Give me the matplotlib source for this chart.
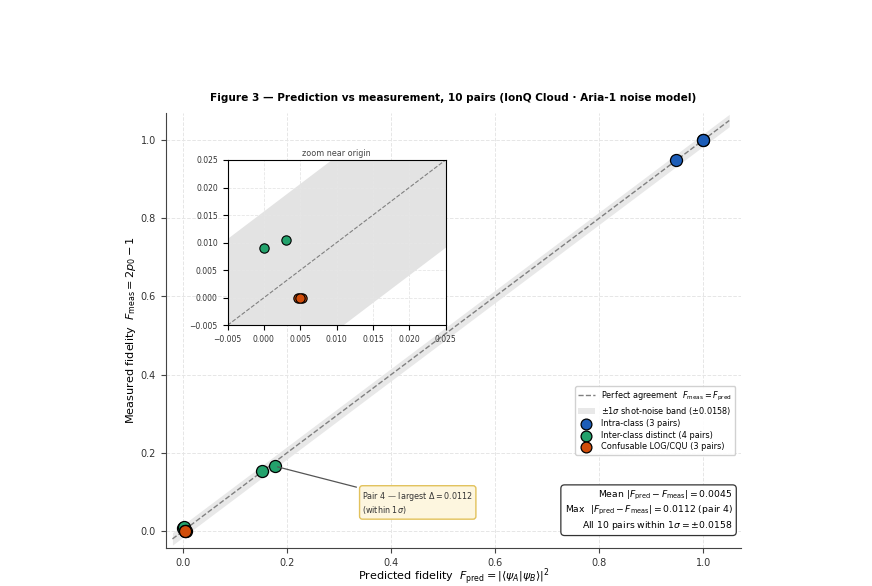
import numpy as np
import matplotlib
matplotlib.use('Agg')
import matplotlib.pyplot as plt

# pair data: predicted fidelity vs measured fidelity (2*p0 - 1)
intra_pred = [1.000, 0.948, 1.000]
intra_meas = [1.000, 0.948, 1.000]
inter_pred = [0.153, 0.177, 0.000, 0.003]
inter_meas = [0.154, 0.166, 0.009, 0.0105]
conf_pred = [0.0047, 0.0053, 0.0050]
conf_meas = [0.000, 0.000, 0.000]

sigma = 0.0158

c_intra = '#1c5db8'
c_inter = '#23a26c'
c_conf = '#d14d0a'

fig = plt.figure(figsize=(8.72, 5.86), dpi=100)
ax = fig.add_axes([0.19, 0.065, 0.66, 0.742])

xx = np.array([-0.02, 1.05])
ax.fill_between(xx, xx - sigma, xx + sigma, color='#d9d9d9', alpha=0.6, lw=0,
                label=r'$\pm1\sigma$ shot-noise band ($\pm$0.0158)')
ax.plot(xx, xx, '--', color='grey', lw=1,
        label=r'Perfect agreement  $F_{\rm meas}=F_{\rm pred}$')

kw = dict(s=75, edgecolors='black', linewidths=0.9, zorder=3)
ax.scatter(intra_pred, intra_meas, color=c_intra, label='Intra-class (3 pairs)', **kw)
ax.scatter(inter_pred, inter_meas, color=c_inter, label='Inter-class distinct (4 pairs)', **kw)
ax.scatter(conf_pred, conf_meas, color=c_conf, label='Confusable LOG/CQU (3 pairs)', **kw)

ax.annotate('Pair 4 — largest $\\Delta=0.0112$\n(within 1$\\sigma$)',
            xy=(inter_pred[1], inter_meas[1]), xytext=(0.345, 0.072),
            fontsize=5.8, color='#333333', va='center',
            bbox=dict(boxstyle='round,pad=0.35', fc='#fdf6df', ec='#e2c25c', lw=1),
            arrowprops=dict(arrowstyle='-', color='#555555', lw=0.9))

ax.text(0.985, 0.037,
        'Mean $|F_{\\rm pred}-F_{\\rm meas}|=0.0045$\n'
        'Max  $|F_{\\rm pred}-F_{\\rm meas}|=0.0112$ (pair 4)\n'
        'All 10 pairs within 1$\\sigma=\\pm0.0158$',
        transform=ax.transAxes, ha='right', va='bottom', fontsize=6.7,
        bbox=dict(boxstyle='round,pad=0.4', fc='white', ec='#333333', lw=0.9))

handles, labels = ax.get_legend_handles_labels()
order = [1, 0, 2, 3, 4]
ax.legend([handles[i] for i in order], [labels[i] for i in order],
          loc='lower right', bbox_to_anchor=(0.997, 0.205), fontsize=5.9,
          markerscale=0.9, labelspacing=0.3, frameon=True, framealpha=0.9)

ax.set_xlim(-0.033, 1.073)
ax.set_ylim(-0.043, 1.069)
ax.set_xticks([0.0, 0.2, 0.4, 0.6, 0.8, 1.0])
ax.set_yticks([0.0, 0.2, 0.4, 0.6, 0.8, 1.0])
ax.tick_params(labelsize=7, labelcolor='#333333', color='#444444')
ax.grid(True, ls='--', color='#e6e6e6', lw=0.7)
ax.spines['top'].set_visible(False)
ax.spines['right'].set_visible(False)
for s in ['left', 'bottom']:
    ax.spines[s].set_color('#444444')
ax.set_xlabel(r'Predicted fidelity  $F_{\rm pred}=|\langle\psi_A|\psi_B\rangle|^2$', fontsize=8,
              labelpad=-1)
ax.set_ylabel(r'Measured fidelity  $F_{\rm meas}=2p_0-1$', fontsize=8.1, labelpad=2)
ax.set_title('Figure 3 — Prediction vs measurement, 10 pairs (IonQ Cloud · Aria-1 noise model)',
             fontsize=7.6, fontweight='bold', pad=9)

# inset near origin
ins = fig.add_axes([0.261, 0.445, 0.25, 0.282])
zz = np.array([-0.005, 0.025])
ins.fill_between(zz, zz - sigma, zz + sigma, color='#e3e3e3', lw=0)
ins.plot(zz, zz, '--', color='grey', lw=0.8)
kw2 = dict(s=45, edgecolors='black', linewidths=0.8, zorder=3)
ins.scatter(intra_pred, intra_meas, color=c_intra, **kw2)
ins.scatter(inter_pred, inter_meas, color=c_inter, **kw2)
ins.scatter(conf_pred, conf_meas, color=c_conf, **kw2)
ins.set_xlim(-0.005, 0.025)
ins.set_ylim(-0.005, 0.025)
ins.set_xticks(np.arange(-0.005, 0.0251, 0.005))
ins.set_yticks(np.arange(-0.005, 0.0251, 0.005))
ins.tick_params(labelsize=5.5, labelcolor='#333333')
ins.grid(True, ls='--', color='#e6e6e6', lw=0.6)
ins.set_title('zoom near origin', fontsize=5.8, color='#444444', pad=3)

plt.savefig('out.png', dpi=100)
